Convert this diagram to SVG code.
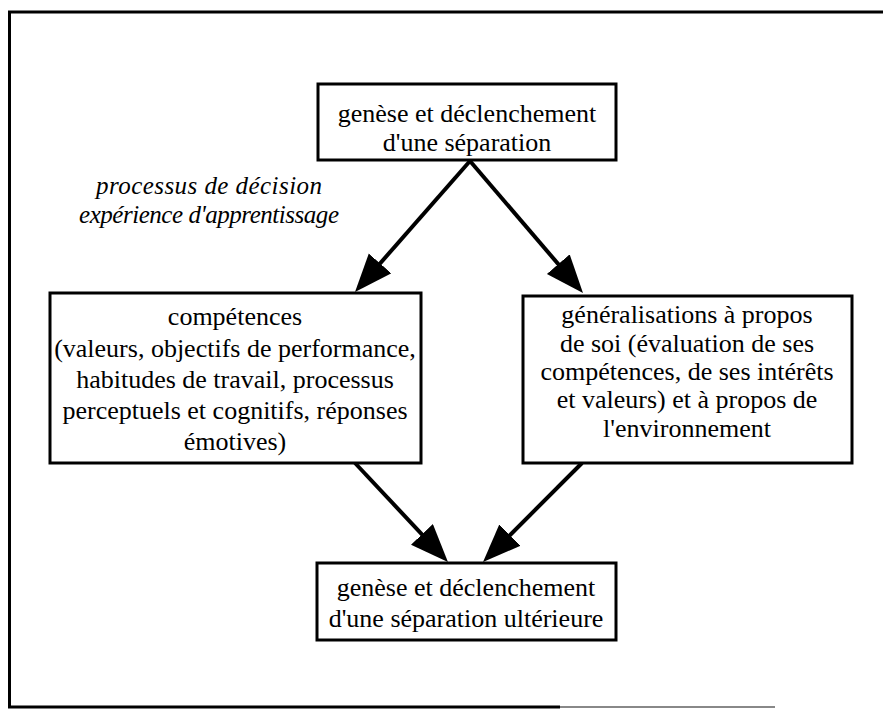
<svg xmlns="http://www.w3.org/2000/svg" width="883" height="710" viewBox="0 0 883 710">
  <style>
    .box { fill: #ffffff; stroke: #000000; stroke-width: 3; }
    .frame { fill: none; stroke: #000000; stroke-width: 3; }
    .txt { font-size: 26px; fill: #000000; text-anchor: middle; }
    .lbl { font-size: 25px; font-style: italic; fill: #000000; text-anchor: middle; }
    .conn { stroke: #000000; stroke-width: 4; fill: none; marker-end: url(#head); }
  </style>
  <defs>
    <marker id="head" markerUnits="userSpaceOnUse" markerWidth="40" markerHeight="32" refX="28" refY="15" orient="auto">
      <path d="M0,0 L38,15 L0,30 z" fill="#000000"/>
    </marker>
  </defs>
  <rect width="883" height="710" fill="#ffffff"/>

  <!-- outer frame (open on the right) -->
  <g id="frame">
    <path class="frame" d="M883,12 L9.5,12 L9.5,707 L560,707"/>
    <path d="M560,707 L775,707" stroke="#888888" stroke-width="2" fill="none"/>
  </g>

  <!-- connectors -->
  <g id="connectors">
    <path class="conn" d="M470,161 L361.6,284.5"/>
    <path class="conn" d="M470,161 L576.5,285.4"/>
    <path class="conn" d="M355,463 L441.1,554.8"/>
    <path class="conn" d="M582,463 L490.1,555"/>
  </g>

  <g font-family="'Liberation Serif', Tinos, 'Times New Roman', 'DejaVu Serif', serif">
    <!-- label beside the upper connectors -->
    <g id="label-process">
      <text class="lbl" x="209" y="194" textLength="226" lengthAdjust="spacing">processus de décision</text>
      <text class="lbl" x="209" y="223" textLength="260" lengthAdjust="spacing">expérience d'apprentissage</text>
    </g>

    <g id="node-start">
      <rect class="box" x="318" y="84" width="298" height="76"/>
      <text class="txt" x="467" y="122">genèse et déclenchement</text>
      <text class="txt" x="467" y="151">d'une séparation</text>
    </g>

    <g id="node-competences">
      <rect class="box" x="50" y="293" width="371" height="170"/>
      <text class="txt" x="235" y="325">compétences</text>
      <text class="txt" x="235" y="357">(valeurs, objectifs de performance,</text>
      <text class="txt" x="235" y="388">habitudes de travail, processus</text>
      <text class="txt" x="235" y="419">perceptuels et cognitifs, réponses</text>
      <text class="txt" x="235" y="450">émotives)</text>
    </g>

    <g id="node-generalisations">
      <rect class="box" x="523" y="296" width="329" height="167"/>
      <text class="txt" x="687" y="323">généralisations à propos</text>
      <text class="txt" x="687" y="352">de soi (évaluation de ses</text>
      <text class="txt" x="687" y="380">compétences, de ses intérêts</text>
      <text class="txt" x="687" y="408">et valeurs) et à propos de</text>
      <text class="txt" x="687" y="437">l'environnement</text>
    </g>

    <g id="node-next">
      <rect class="box" x="317" y="563" width="299" height="77"/>
      <text class="txt" x="466" y="596">genèse et déclenchement</text>
      <text class="txt" x="466" y="627">d'une séparation ultérieure</text>
    </g>
  </g>
</svg>
